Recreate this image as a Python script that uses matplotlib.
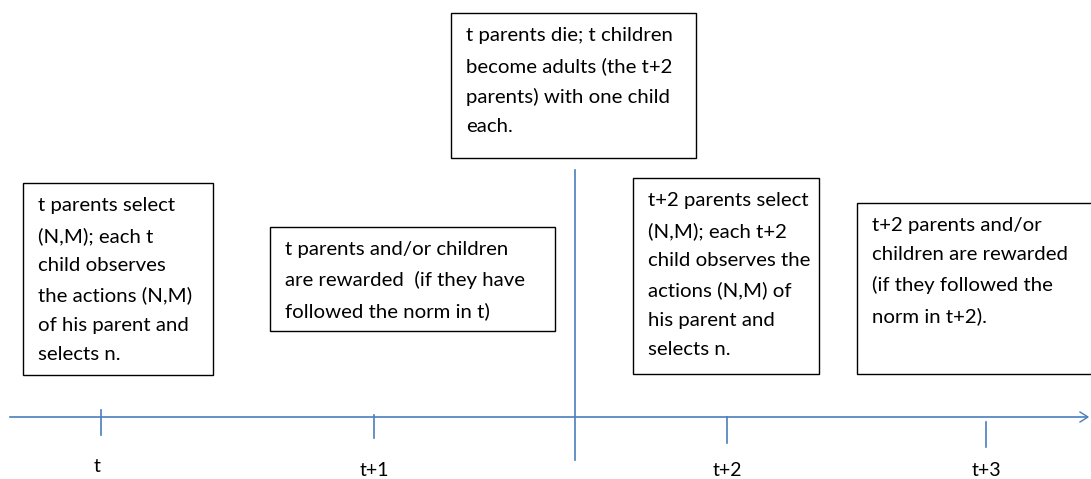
import matplotlib
matplotlib.use('Agg')
import matplotlib.pyplot as plt
from matplotlib.patches import Rectangle

# timeline periods and where their ticks sit
period_labels = ['t', 't+1', 't+2', 't+3']
tick_x = [101, 374, 727, 986]
tick_top = [410, 415, 417, 422]
tick_bot = [435, 438, 443, 447]
label_y = [466, 470, 470, 470]

# event boxes: left, top, right, bottom (pixels) and their text
box_left = [23, 270, 451, 633, 857]
box_top = [183, 227, 13, 178, 203]
box_right = [213, 555, 696, 819, 1095]
box_bottom = [375, 331, 158, 374, 374]
box_text = [
    't parents select\n(N,M); each t\nchild observes\nthe actions (N,M)\nof his parent and\nselects n.',
    't parents and/or children\nare rewarded  (if they have\nfollowed the norm in t)',
    't parents die; t children\nbecome adults (the t+2\nparents) with one child\neach.',
    't+2 parents select\n(N,M); each t+2\nchild observes the\nactions (N,M) of\nhis parent and\nselects n.',
    't+2 parents and/or\nchildren are rewarded\n(if they followed the\nnorm in t+2).',
]

W, H = 1091, 479
fig = plt.figure(figsize=(W / 100, H / 100), dpi=100)
ax = fig.add_axes([0, 0, 1, 1])
ax.set_xlim(0, W)
ax.set_ylim(H, 0)
ax.axis('off')

blue = '#4a7ebb'
fsize = 14.7

# main time axis with open arrow head
ax.plot([10, 1087], [417, 417], color=blue, lw=1.2)
ax.plot([1080, 1088, 1080], [412, 417, 422], color=blue, lw=1.0)

# divider between generations
ax.plot([575, 575], [170, 460], color=blue, lw=1.2)

for x, y0, y1, ly, lab in zip(tick_x, tick_top, tick_bot, label_y, period_labels):
    ax.plot([x, x], [y0, y1], color=blue, lw=1.2)
    ax.text(x - 4 if lab == 't' else x, ly, lab, ha='center', va='center',
            fontsize=fsize - 0.7, family='Lato', color='black')

for l, t, r, b, txt in zip(box_left, box_top, box_right, box_bottom, box_text):
    ax.add_patch(Rectangle((l, t), r - l, b - t, fill=False, ec='black', lw=1.0,
                           clip_on=False))
    ax.text(l + 15, t + 14, txt, ha='left', va='top', fontsize=fsize,
            family='Lato', linespacing=1.86, color='black')

plt.savefig('out.png', dpi=100)
